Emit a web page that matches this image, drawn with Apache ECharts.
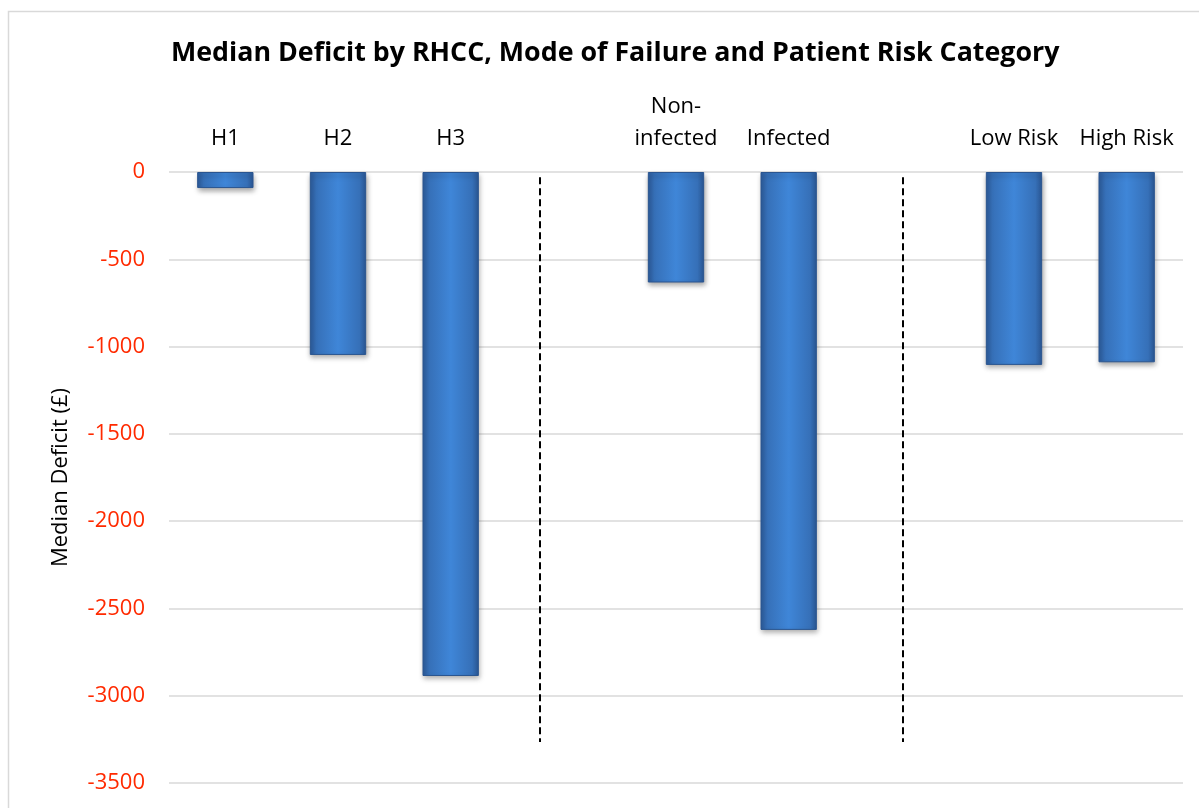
<!DOCTYPE html>
<html>
<head>
<meta charset="utf-8">
<script src="https://cdn.jsdelivr.net/npm/echarts@6/dist/echarts.min.js"></script>
<style>
html,body{margin:0;padding:0;background:#fff;}
#chart{width:1199px;height:808px;}
</style>
</head>
<body>
<div id="chart"></div>
<script>
// ---- data ----
var titleText = 'Median Deficit by RHCC, Mode of Failure and Patient Risk Category';
var categories = ['H1', 'H2', 'H3', '', 'Non-\ninfected', 'Infected', '', 'Low Risk', 'High Risk'];
var deficitValues = [-92, -1048, -2887, null, -633, -2623, null, -1105, -1090];
var yTicks = {min: -3500, max: 0, interval: 500};
var yAxisName = 'Median Deficit (\u00a3)';
// dashed separator positions, in category units (0..9 across the plot)
var dividerPositions = [3.29, 6.51];
var dividerRange = [-30, -3265];

var chart = echarts.init(document.getElementById('chart'), null, {renderer: 'canvas'});

var dividerLines = dividerPositions.map(function (x) {
  return [{coord: [x, dividerRange[0]]}, {coord: [x, dividerRange[1]]}];
});

var option = {
  backgroundColor: '#ffffff',
  animation: false,
  title: {
    text: titleText,
    left: 166,
    top: 35,
    textStyle: {fontFamily: 'Open Sans', fontWeight: 'bold', fontSize: 26.8, color: '#000'}
  },
  graphic: [{
    type: 'rect',
    shape: {x: 8.5, y: 11.5, width: 1200, height: 820},
    style: {fill: 'none', stroke: '#d9d9d9', lineWidth: 1.5},
    silent: true, z: -1
  }],
  grid: {left: 169, right: 16, top: 172, bottom: 25, containLabel: false},
  xAxis: [{
    type: 'category',
    data: categories,
    position: 'top',
    axisLine: {show: false},
    axisTick: {show: false},
    axisLabel: {color: '#000', fontSize: 22, fontFamily: 'Open Sans', margin: 17, interval: 0, lineHeight: 32}
  }, {
    type: 'value',
    min: 0, max: 9,
    show: false
  }],
  yAxis: {
    type: 'value',
    min: yTicks.min, max: yTicks.max, interval: yTicks.interval,
    name: yAxisName,
    nameLocation: 'middle',
    nameGap: 97,
    nameRotate: 90,
    nameTextStyle: {color: '#000', fontSize: 22, fontFamily: 'Open Sans'},
    axisLine: {show: false},
    axisTick: {show: false},
    axisLabel: {
      color: '#ff2a00', fontSize: 22, fontFamily: 'Open Sans', margin: 24,
      formatter: function (v) { return String(v); }
    },
    splitLine: {show: true, lineStyle: {color: '#d9d9d9', width: 1.5}}
  },
  series: [{
    type: 'bar',
    xAxisIndex: 0,
    data: deficitValues,
    barWidth: '50%',
    itemStyle: {
      color: new echarts.graphic.LinearGradient(0, 0, 1, 0, [
        {offset: 0, color: '#2d5c9c'},
        {offset: 0.12, color: '#3670b8'},
        {offset: 0.5, color: '#3f86d8'},
        {offset: 0.88, color: '#3670b8'},
        {offset: 1, color: '#2b5896'}
      ]),
      borderColor: '#2a5590',
      borderWidth: 1,
      shadowColor: 'rgba(0,0,0,0.35)',
      shadowBlur: 5,
      shadowOffsetX: 1,
      shadowOffsetY: 3
    }
  }, {
    type: 'line',
    xAxisIndex: 1,
    data: [],
    silent: true,
    markLine: {
      silent: true,
      symbol: ['none', 'none'],
      label: {show: false},
      lineStyle: {color: '#000', type: [7, 4], width: 2},
      data: dividerLines
    }
  }]
};
chart.setOption(option);
</script>
</body>
</html>
